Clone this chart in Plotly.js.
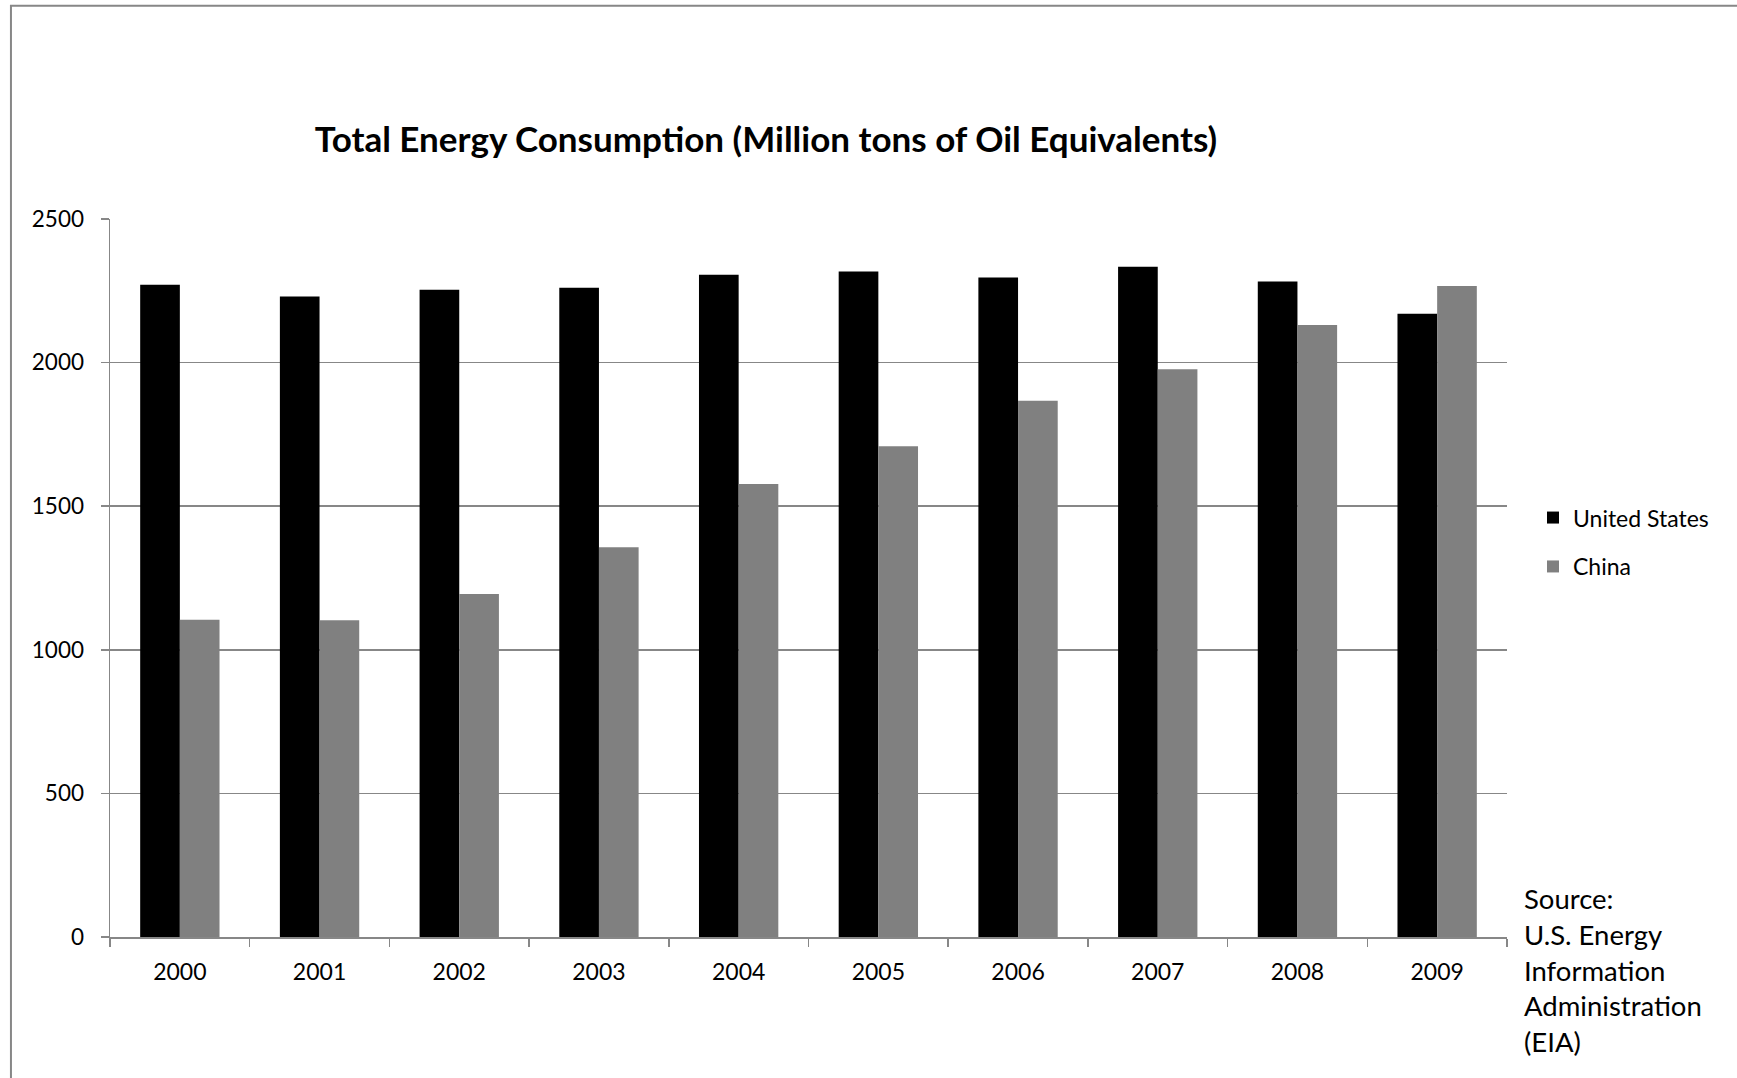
<!DOCTYPE html>
<html>
<head>
<meta charset="utf-8">
<script src="https://cdn.plot.ly/plotly-3.0.1.min.js"></script>
<style>
  html, body { margin: 0; padding: 0; background: #ffffff; }
  #chart { width: 1737px; height: 1078px; }
</style>
</head>
<body>
<div id="chart"></div>
<script>
// ---- Data ----
const years = ['2000', '2001', '2002', '2003', '2004', '2005', '2006', '2007', '2008', '2009'];
const usValues = [2271, 2230, 2254, 2261, 2306, 2317, 2296, 2334, 2282, 2170];
const chinaValues = [1105, 1103, 1194, 1357, 1577, 1709, 1867, 1977, 2131, 2267];
const yTickValues = [0, 500, 1000, 1500, 2000, 2500];
const seriesNames = ['United States', 'China'];
const chartTitle = 'Total Energy Consumption (Million tons of Oil Equivalents)';
const sourceLines = ['Source:', 'U.S. Energy', 'Information', 'Administration', '(EIA)'];

const FONT = 'Lato, "Open Sans", sans-serif';
const GRAY = '#878787';

const traces = [
  {
    type: 'bar',
    name: seriesNames[0],
    x: years,
    y: usValues,
    legendgroup: 'us',
    marker: { color: '#000000', line: { width: 0 } },
    hoverinfo: 'x+y+name'
  },
  {
    type: 'bar',
    name: seriesNames[1],
    x: years,
    y: chinaValues,
    legendgroup: 'cn',
    marker: { color: '#808080', line: { width: 0 } },
    hoverinfo: 'x+y+name'
  }
];

const layout = {
  width: 1737,
  height: 1078,
  paper_bgcolor: '#ffffff',
  plot_bgcolor: '#ffffff',
  font: { family: FONT, color: '#000000', size: 23 },
  margin: { l: 110, r: 230, t: 219, b: 141, pad: 0 },
  barmode: 'group',
  bargap: 0.432,
  bargroupgap: 0,
  showlegend: true,
  title: {
    text: '<b>' + chartTitle + '</b>',
    font: { family: FONT, size: 35, color: '#000000' },
    xref: 'paper',
    x: 0.4696,
    xanchor: 'center',
    yref: 'container',
    y: 0.870,
    yanchor: 'middle'
  },
  xaxis: {
    type: 'category',
    showgrid: false,
    showline: true,
    linecolor: GRAY,
    linewidth: 1.5,
    ticks: 'outside',
    tickson: 'boundaries',
    ticklen: 8,
    tickwidth: 1.5,
    tickcolor: GRAY,
    tickfont: { family: FONT, size: 23, color: '#000000' },
    ticklabelstandoff: 14,
    zeroline: false,
    fixedrange: true
  },
  yaxis: {
    range: [0, 2500],
    tickvals: yTickValues,
    ticktext: yTickValues.map(String),
    showgrid: true,
    gridcolor: GRAY,
    gridwidth: 1.5,
    showline: true,
    linecolor: GRAY,
    linewidth: 1.5,
    ticks: 'outside',
    ticklen: 8,
    tickwidth: 1.5,
    tickcolor: GRAY,
    tickfont: { family: FONT, size: 22.5, color: '#000000' },
    ticklabelstandoff: 12,
    zeroline: false,
    fixedrange: true
  },
  legend: {
    x: 1.0186,
    xanchor: 'left',
    y: 0.550,
    yanchor: 'middle',
    font: { family: FONT, size: 23, color: '#000000' },
    bgcolor: 'rgba(0,0,0,0)',
    borderwidth: 0,
    tracegroupgap: 16,
    traceorder: 'grouped'
  },
  annotations: [
    {
      text: sourceLines.join('<br>'),
      xref: 'paper',
      yref: 'paper',
      x: 1.0106,
      xanchor: 'left',
      y: -0.0453,
      yanchor: 'middle',
      align: 'left',
      showarrow: false,
      font: { family: FONT, size: 27.5, color: '#000000' }
    }
  ],
  shapes: [
    {
      type: 'rect',
      xref: 'paper',
      yref: 'paper',
      x0: -0.0709,
      x1: 1.4,
      y0: -0.4,
      y1: 1.297,
      line: { color: GRAY, width: 2 },
      fillcolor: 'rgba(0,0,0,0)',
      layer: 'below'
    }
  ]
};

Plotly.newPlot('chart', traces, layout, { displayModeBar: false, staticPlot: true });
</script>
</body>
</html>
